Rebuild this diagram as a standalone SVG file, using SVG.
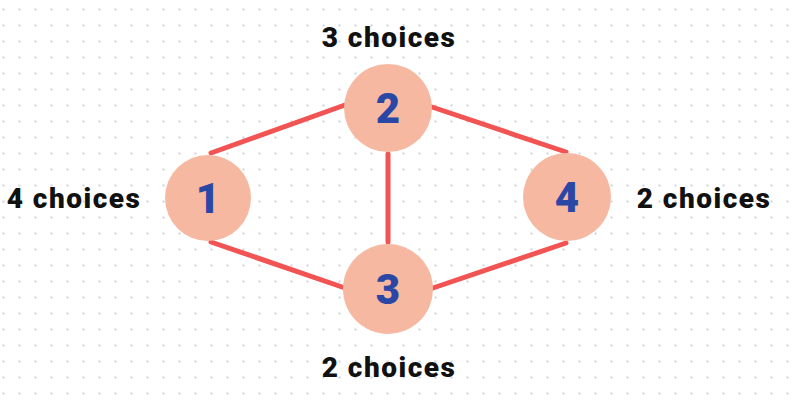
<svg xmlns="http://www.w3.org/2000/svg" width="800" height="402" viewBox="0 0 800 402">
<defs>
<pattern id="dots" x="2" y="8" width="16" height="16" patternUnits="userSpaceOnUse">
<rect x="0.5" y="0.5" width="2" height="2" fill="#cdd1db"/>
</pattern>
</defs>
<style>
.edge{stroke:#f25353;stroke-width:5;stroke-linecap:round;fill:none}
.node circle{fill:#f6b8a0}
.num{font-family:Roboto,"Liberation Sans",sans-serif;font-weight:900;font-size:42px;fill:#2b47a6;text-anchor:middle}
.lbl{font-family:Roboto,"Liberation Sans",sans-serif;font-weight:900;font-size:28px;letter-spacing:1.5px;fill:#111;text-anchor:middle}
</style>
<rect width="800" height="402" fill="#ffffff"/>
<rect width="800" height="402" fill="url(#dots)"/>
<g id="connectors">
<line class="edge" x1="211" y1="153" x2="345" y2="105"/>
<line class="edge" x1="432" y1="107" x2="566" y2="152"/>
<line class="edge" x1="388" y1="154" x2="388" y2="242"/>
<line class="edge" x1="211" y1="242" x2="345" y2="288"/>
<line class="edge" x1="433" y1="288" x2="566" y2="243"/>
</g>
<g id="node1" class="node"><circle cx="208" cy="198" r="43"/><text class="num" x="208" y="213">1</text></g>
<g id="node2" class="node"><circle cx="388" cy="108" r="44"/><text class="num" x="388" y="123">2</text></g>
<g id="node3" class="node"><circle cx="388" cy="289" r="45"/><text class="num" x="388" y="304">3</text></g>
<g id="node4" class="node"><circle cx="567" cy="197" r="44"/><text class="num" x="567" y="212">4</text></g>
<g id="labels">
<text class="lbl" x="389" y="47">3 choices</text>
<text class="lbl" x="74" y="208">4 choices</text>
<text class="lbl" x="704" y="208">2 choices</text>
<text class="lbl" x="389" y="377">2 choices</text>
</g>
</svg>
